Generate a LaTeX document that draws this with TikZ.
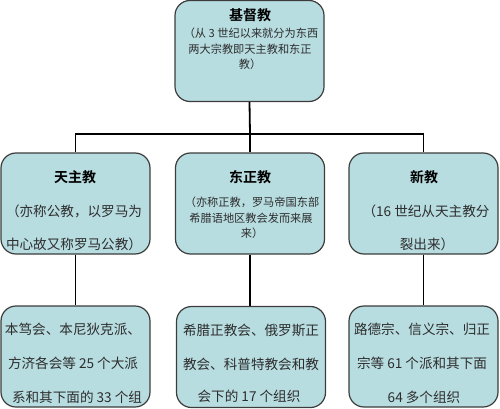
\documentclass[tikz,border=0pt]{standalone}
\usepackage{fontspec}
\newfontfamily\cjk{Noto Sans CJK SC}
\newfontfamily\cjkb{Noto Sans CJK SC Bold}
\definecolor{boxc}{RGB}{184,221,225}
\definecolor{edgec}{RGB}{60,60,60}
\definecolor{txtc}{RGB}{45,45,45}
\tikzset{
  box/.style={draw=edgec, fill=boxc, rounded corners=15pt, line width=1.2pt,
    minimum width=149pt, minimum height=101pt, inner sep=0pt},
  ttl/.style={font=\cjkb\fontsize{14}{14}\selectfont, text=black, inner sep=0pt},
  sm/.style={font=\cjk\fontsize{11.2}{11.2}\selectfont, text=txtc, inner sep=0pt},
  lg/.style={font=\cjk\fontsize{13.6}{13.6}\selectfont, text=txtc, inner sep=0pt},
  conn/.style={draw=black, line width=1.8pt}
}
\begin{document}
\begin{tikzpicture}[x=1pt,y=-1pt]
\useasboundingbox (0,0) rectangle (500,409);
% boxes
\node[box] (top) at (249.5,51) {};
\node[box] (m1) at (75.5,203.5) {};
\node[box] (m2) at (250,203.5) {};
\node[box] (m3) at (423.5,203.5) {};
\node[box] (b1) at (75.5,356.5) {};
\node[box] (b2) at (251,357) {};
\node[box] (b3) at (423.5,356.5) {};
% connectors
\coordinate (j) at (250,134);
\draw[conn] (top.south) -- (j);
\draw[conn] (m1.north) |- (j);
\draw[conn] (m3.north) |- (j);
\draw[conn] (j) -- (m2.north);
\draw[conn] (m1.south) -- (b1.north);
\draw[conn] (m2.south) -- (m2.south |- b2.north);
\draw[conn] (m3.south) -- (b3.north);
% top texts
\node[ttl] (t0) at (250,15) {基督教};
\node[sm] (t1) at (251,33) {（从 3 世纪以来就分为东西};
\node[sm] (t2) at (250,49) {两大宗教即天主教和东正};
\node[sm] (t3) at (250,64) {教）};
% middle left
\node[ttl] (a0) at (75,177) {天主教};
\node[lg] (a1) at (74,211) {（亦称公教，以罗马为};
\node[lg] (a2) at (74,244) {中心故又称罗马公教）};
% middle centre
\node[ttl] (c0) at (250,177) {东正教};
\node[sm] (c1) at (252,202) {（亦称正教，罗马帝国东部};
\node[sm] (c2) at (251,218) {希腊语地区教会发而来展};
\node[sm] (c3) at (252,233) {来）};
% middle right
\node[ttl] (r0) at (424,177) {新教};
\node[lg] (r1) at (426,211) {（16 世纪从天主教分};
\node[lg] (r2) at (427,244) {裂出来）};
% bottom left
\node[lg] (d1) at (73,329) {本笃会、本尼狄克派、};
\node[lg] (d2) at (73,363) {方济各会等 25 个大派};
\node[lg] (d3) at (77,397) {系和其下面的 33 个组};
% bottom centre
\node[lg] (e1) at (251,330) {希腊正教会、俄罗斯正};
\node[lg] (e2) at (251,364) {教会、科普特教会和教};
\node[lg] (e3) at (249,396) {会下的 17 个组织};
% bottom right
\node[lg] (f1) at (422,329) {路德宗、信义宗、归正};
\node[lg] (f2) at (422,363) {宗等 61 个派和其下面};
\node[lg] (f3) at (424,397) {64 多个组织};
\end{tikzpicture}
\end{document}
